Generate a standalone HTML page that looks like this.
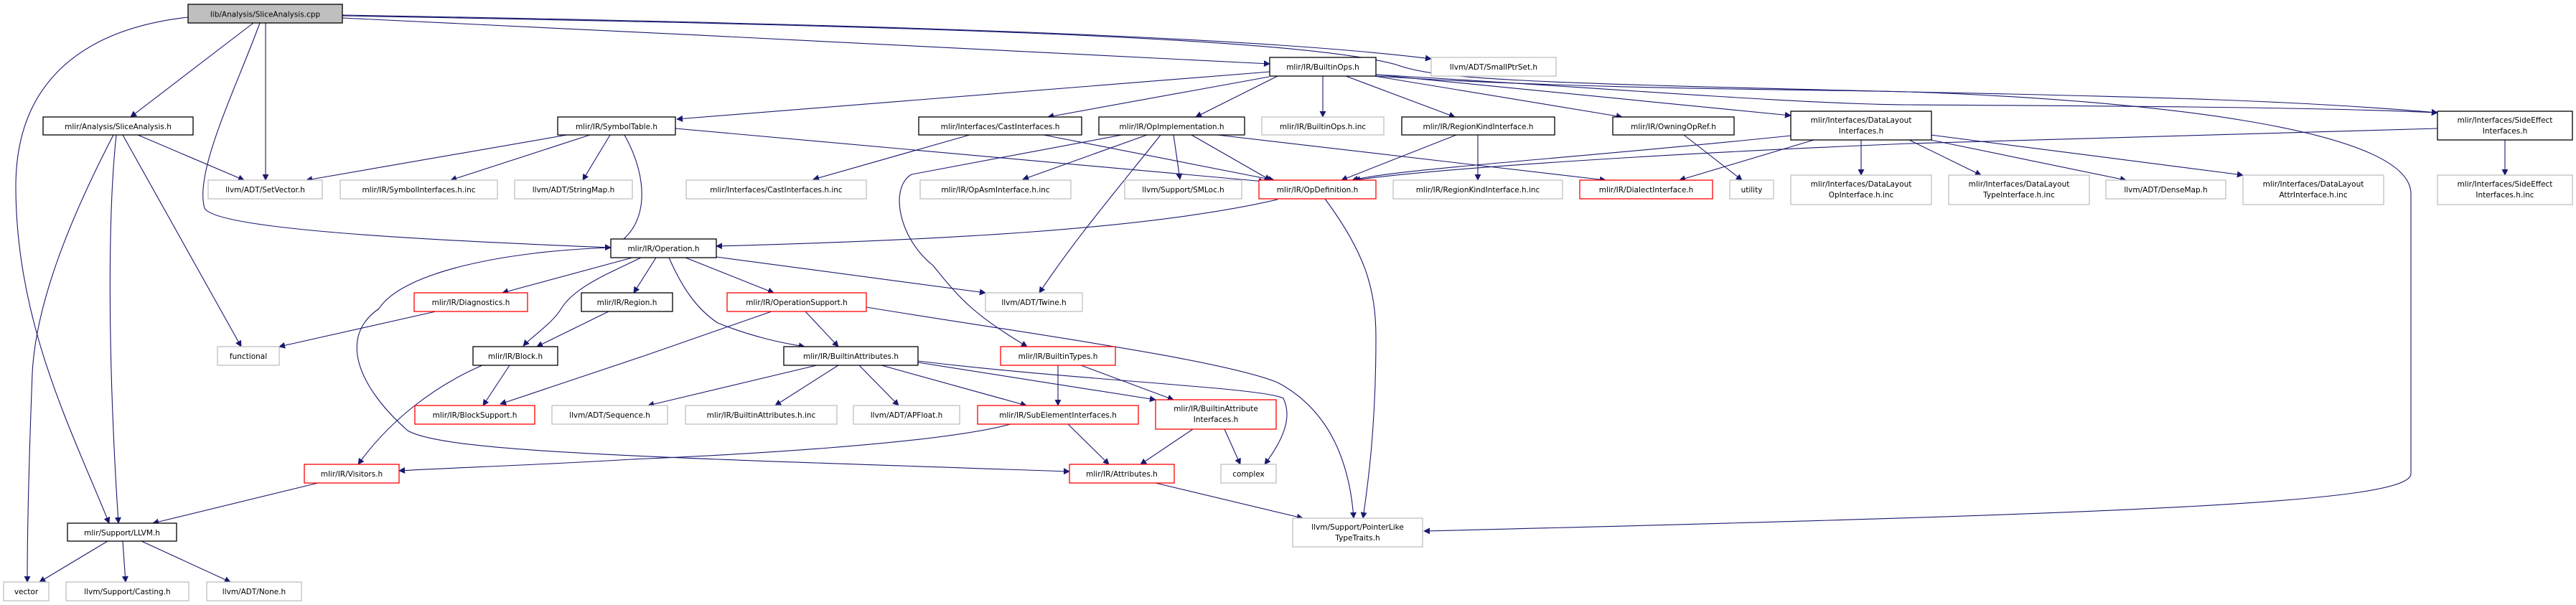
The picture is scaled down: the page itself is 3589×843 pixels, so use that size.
<!DOCTYPE html>
<html><head><meta charset="utf-8"><style>
html,body{margin:0;padding:0;background:#fff;}
svg{display:block}
text{font-family:"DejaVu Sans","Liberation Sans",sans-serif;font-size:10.5px;fill:#000;text-anchor:middle}
.b{fill:#fff;stroke:#000;stroke-width:1.3}
.g{fill:#fff;stroke:#bfbfbf;stroke-width:1.3}
.r{fill:#fff;stroke:#ff0000;stroke-width:1.3}
.e{fill:none;stroke:#191970;stroke-width:1.1}
</style></head><body>
<svg width="3589" height="843" viewBox="0 0 3589 843" xmlns="http://www.w3.org/2000/svg">
<defs><marker id="a" viewBox="0 0 10 10" refX="9" refY="5" markerWidth="9" markerHeight="9" markerUnits="userSpaceOnUse" orient="auto"><path d="M0,0 L10,5 L0,10 z" fill="#191970"/></marker></defs>
<g class="e" marker-end="url(#a)">
<!-- root -->
<path d="M353,32 L182,163"/>
<path d="M370,32 L370,251"/>
<path d="M362,32 C330,120 270,240 285,290 C300,320 600,335 851,345"/>
<path d="M262,24 C120,40 22,110 22,260 C22,450 100,600 152,729"/>
<path d="M477,25 C900,45 1400,70 1769,89"/>
<path d="M477,21 C1000,30 1700,45 1994,82"/>
<path d="M477,22 C1200,35 1800,50 1945,90 C2000,110 2100,115 2660,128 C3000,135 3200,140 3396,157"/>
<!-- BuiltinOps -->
<path d="M1769,100 L943,166"/>
<path d="M1768,107 L1460,163"/>
<path d="M1780,106 L1666,163"/>
<path d="M1843,106 L1843,163"/>
<path d="M1875,106 L2027,163"/>
<path d="M1915,106 L2260,163"/>
<path d="M1917,104 L2495,161"/>
<path d="M1917,104 C2200,120 2500,145 2660,146 C3000,148 3250,150 3396,157"/>
<path d="M1917,106 C2200,125 2560,125 2660,128 C3000,140 3359,180 3359,270 L3359,660 C3359,700 3000,715 1984,740"/>
<!-- SymbolTable -->
<path d="M790,188 L427,251"/>
<path d="M822,188 L628,251"/>
<path d="M850,188 L812,251"/>
<path d="M941,179 L1762,253"/>
<path d="M870,188 C905,250 905,320 850,345 C700,350 560,380 528,430 C470,470 500,540 568,600 C620,630 900,637 1490,657"/>
<!-- SliceAnalysis.h -->
<path d="M192,188 L340,251"/>
<path d="M162,188 C150,300 150,500 165,729"/>
<path d="M158,188 C100,300 50,420 45,520 C40,650 38,750 38,811"/>
<path d="M171,188 L336,483"/>
<!-- Operation -->
<path d="M881,359 L700,408"/>
<path d="M893,359 C850,380 800,400 782,430 C770,450 740,470 729,482"/>
<path d="M914,359 L883,408"/>
<path d="M955,359 L1078,408"/>
<path d="M932,359 C950,400 970,430 1000,450 C1050,470 1090,478 1121,483"/>
<path d="M998,358 L1373,408"/>
<path d="M1408,591 C1300,620 1000,635 880,640 C750,648 620,652 556,656"/>
<path d="M672,509 C600,540 540,590 499,647"/>
<path d="M443,673 L213,729"/>
<path d="M607,434 L389,483"/>
<path d="M848,434 L748,483"/>
<path d="M710,509 L673,565"/>
<path d="M1075,434 L900,495 L697,563"/>
<path d="M1122,434 L1168,483"/>
<path d="M1207,428 C1400,460 1700,500 1780,533 C1850,570 1880,640 1886,722"/>
<path d="M1846,277 C1900,350 1917,400 1917,470 C1917,600 1905,680 1899,722"/>
<path d="M1780,278 C1600,320 1300,335 998,343"/>
<!-- OpImplementation -->
<path d="M1563,188 L1270,243 C1240,260 1250,330 1300,370 C1340,420 1360,440 1431,483"/>
<path d="M1598,188 L1425,250"/>
<path d="M1617,188 C1560,260 1500,330 1448,408"/>
<path d="M1635,188 L1644,250"/>
<path d="M1660,188 L1770,251"/>
<path d="M1696,188 L2237,251"/>
<path d="M1351,188 L1133,250"/>
<path d="M1454,188 L1775,251"/>
<path d="M2029,188 L1869,251"/>
<path d="M2059,188 L2059,251"/>
<path d="M2346,188 L2427,251"/>
<!-- DataLayout -->
<path d="M2495,189 C2200,220 1950,235 1884,251"/>
<path d="M2527,195 L2340,251"/>
<path d="M2593,195 L2593,244"/>
<path d="M2660,195 L2760,244"/>
<path d="M2690,195 L2962,251"/>
<path d="M2690,188 L3125,244"/>
<path d="M3396,179 C3000,190 2700,198 2660,200 C2300,215 2000,235 1887,251"/>
<path d="M3490,195 L3490,244"/>
<!-- BuiltinAttributes -->
<path d="M1138,509 L903,565"/>
<path d="M1168,509 L1080,565"/>
<path d="M1197,509 L1252,565"/>
<path d="M1228,509 L1430,565"/>
<path d="M1279,505 L1610,557"/>
<path d="M1279,503 C1500,530 1760,540 1788,555 C1800,580 1790,610 1762,647"/>
<path d="M1474,509 L1474,565"/>
<path d="M1506,509 L1635,557"/>
<path d="M1488,591 L1545,647"/>
<path d="M1662,598 L1589,647"/>
<path d="M1706,598 L1728,647"/>
<path d="M1610,673 L1815,722"/>
<path d="M150,754 L55,811"/>
<path d="M171,754 L175,811"/>
<path d="M197,754 L321,811"/>
</g>
<!-- nodes -->
<rect x="262" y="6" width="215" height="26" fill="#bfbfbf" stroke="#000" stroke-width="1.3"/><text x="369.5" y="23.5">lib/Analysis/SliceAnalysis.cpp</text>
<rect class="b" x="60" y="163" width="209" height="25"/><text x="164.5" y="180">mlir/Analysis/SliceAnalysis.h</text>
<rect class="g" x="290" y="251" width="159" height="26"/><text x="369.5" y="268">llvm/ADT/SetVector.h</text>
<rect class="g" x="474" y="251" width="219" height="26"/><text x="583.5" y="268">mlir/IR/SymbolInterfaces.h.inc</text>
<rect class="g" x="717" y="251" width="164" height="26"/><text x="799" y="268">llvm/ADT/StringMap.h</text>
<rect class="b" x="777" y="163" width="164" height="25"/><text x="859" y="180">mlir/IR/SymbolTable.h</text>
<rect class="b" x="851" y="333" width="147" height="26"/><text x="924.5" y="350">mlir/IR/Operation.h</text>
<rect class="r" x="577" y="408" width="158" height="26"/><text x="656" y="425">mlir/IR/Diagnostics.h</text>
<rect class="b" x="810" y="408" width="127" height="26"/><text x="873.5" y="425">mlir/IR/Region.h</text>
<rect class="g" x="303" y="483" width="86" height="26"/><text x="346" y="500">functional</text>
<rect class="b" x="659" y="483" width="118" height="26"/><text x="718" y="500">mlir/IR/Block.h</text>
<rect class="r" x="578" y="565" width="167" height="26"/><text x="661.5" y="582">mlir/IR/BlockSupport.h</text>
<rect class="g" x="769" y="565" width="161" height="26"/><text x="849.5" y="582">llvm/ADT/Sequence.h</text>
<rect class="r" x="424" y="647" width="132" height="26"/><text x="490" y="664">mlir/IR/Visitors.h</text>
<rect class="b" x="94" y="729" width="152" height="25"/><text x="170" y="746">mlir/Support/LLVM.h</text>
<rect class="g" x="5" y="811" width="63" height="26"/><text x="36.5" y="828">vector</text>
<rect class="g" x="92" y="811" width="171" height="26"/><text x="177.5" y="828">llvm/Support/Casting.h</text>
<rect class="g" x="288" y="811" width="132" height="26"/><text x="354" y="828">llvm/ADT/None.h</text>
<rect class="b" x="1769" y="80" width="148" height="26"/><text x="1843" y="97">mlir/IR/BuiltinOps.h</text>
<rect class="g" x="1994" y="80" width="174" height="26"/><text x="2081" y="97">llvm/ADT/SmallPtrSet.h</text>
<rect class="b" x="1280" y="163" width="227" height="25"/><text x="1393.5" y="180">mlir/Interfaces/CastInterfaces.h</text>
<rect class="b" x="1531" y="163" width="203" height="25"/><text x="1632.5" y="180">mlir/IR/OpImplementation.h</text>
<rect class="g" x="1758" y="163" width="170" height="25"/><text x="1843" y="180">mlir/IR/BuiltinOps.h.inc</text>
<rect class="b" x="1953" y="163" width="213" height="25"/><text x="2059.5" y="180">mlir/IR/RegionKindInterface.h</text>
<rect class="b" x="2247" y="163" width="169" height="25"/><text x="2331.5" y="180">mlir/IR/OwningOpRef.h</text>
<rect class="b" x="2495" y="155" width="196" height="40"/><text x="2593" y="171">mlir/Interfaces/DataLayout</text><text x="2593" y="186">Interfaces.h</text>
<rect class="b" x="3396" y="155" width="188" height="40"/><text x="3490" y="171">mlir/Interfaces/SideEffect</text><text x="3490" y="186">Interfaces.h</text>
<rect class="g" x="956" y="251" width="251" height="26"/><text x="1081.5" y="268">mlir/Interfaces/CastInterfaces.h.inc</text>
<rect class="g" x="1282" y="251" width="210" height="26"/><text x="1387" y="268">mlir/IR/OpAsmInterface.h.inc</text>
<rect class="g" x="1567" y="251" width="163" height="26"/><text x="1648.5" y="268">llvm/Support/SMLoc.h</text>
<rect class="r" x="1754" y="251" width="163" height="26"/><text x="1835.5" y="268">mlir/IR/OpDefinition.h</text>
<rect class="g" x="1941" y="251" width="236" height="26"/><text x="2059" y="268">mlir/IR/RegionKindInterface.h.inc</text>
<rect class="r" x="2201" y="251" width="185" height="26"/><text x="2293.5" y="268">mlir/IR/DialectInterface.h</text>
<rect class="g" x="2410" y="251" width="61" height="26"/><text x="2440.5" y="268">utility</text>
<rect class="g" x="2495" y="244" width="196" height="41"/><text x="2593" y="260">mlir/Interfaces/DataLayout</text><text x="2593" y="275">OpInterface.h.inc</text>
<rect class="g" x="2715" y="244" width="196" height="41"/><text x="2813" y="260">mlir/Interfaces/DataLayout</text><text x="2813" y="275">TypeInterface.h.inc</text>
<rect class="g" x="2934" y="251" width="167" height="26"/><text x="3017.5" y="268">llvm/ADT/DenseMap.h</text>
<rect class="g" x="3125" y="244" width="196" height="41"/><text x="3223" y="260">mlir/Interfaces/DataLayout</text><text x="3223" y="275">AttrInterface.h.inc</text>
<rect class="g" x="3396" y="244" width="188" height="41"/><text x="3490" y="260">mlir/Interfaces/SideEffect</text><text x="3490" y="275">Interfaces.h.inc</text>
<rect class="g" x="1373" y="408" width="135" height="26"/><text x="1440.5" y="425">llvm/ADT/Twine.h</text>
<rect class="r" x="1013" y="408" width="194" height="26"/><text x="1110" y="425">mlir/IR/OperationSupport.h</text>
<rect class="b" x="1092" y="483" width="187" height="26"/><text x="1185.5" y="500">mlir/IR/BuiltinAttributes.h</text>
<rect class="r" x="1394" y="483" width="160" height="26"/><text x="1474" y="500">mlir/IR/BuiltinTypes.h</text>
<rect class="g" x="955" y="565" width="211" height="26"/><text x="1060.5" y="582">mlir/IR/BuiltinAttributes.h.inc</text>
<rect class="g" x="1189" y="565" width="148" height="26"/><text x="1263" y="582">llvm/ADT/APFloat.h</text>
<rect class="r" x="1362" y="565" width="224" height="26"/><text x="1474" y="582">mlir/IR/SubElementInterfaces.h</text>
<rect class="r" x="1610" y="557" width="168" height="41"/><text x="1694" y="573">mlir/IR/BuiltinAttribute</text><text x="1694" y="588">Interfaces.h</text>
<rect class="r" x="1490" y="647" width="146" height="26"/><text x="1563" y="664">mlir/IR/Attributes.h</text>
<rect class="g" x="1701" y="647" width="77" height="26"/><text x="1739.5" y="664">complex</text>
<rect class="g" x="1801" y="722" width="181" height="40"/><text x="1891.5" y="738">llvm/Support/PointerLike</text><text x="1891.5" y="753">TypeTraits.h</text>
</svg>
</body></html>
